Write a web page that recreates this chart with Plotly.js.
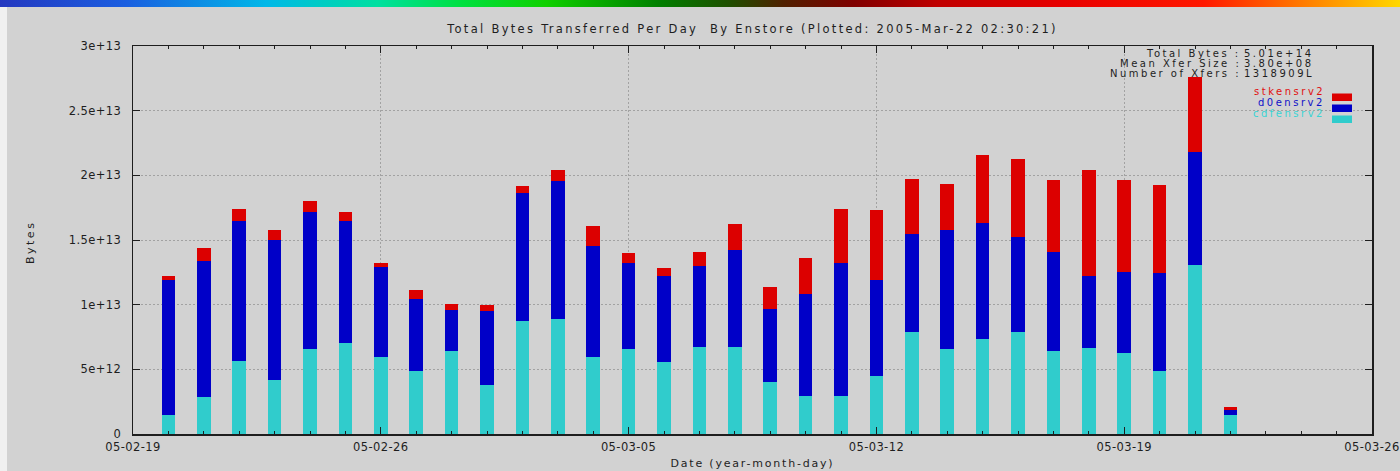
<!DOCTYPE html>
<html>
<head>
<meta charset="utf-8">
<script src="https://cdn.plot.ly/plotly-3.0.1.min.js"></script>
<style>
  html, body { margin: 0; padding: 0; background: #d2d2d2; }
  #wrap { position: relative; width: 1400px; height: 471px; overflow: hidden; }
  #chart { position: absolute; left: 0; top: 0; width: 1400px; height: 471px; }
  /* colour banner across the top of the page */
  #band {
    position: absolute; left: 0; top: 0; width: 1400px; height: 7px; z-index: 2;
    background: linear-gradient(to right,
      #2438c0 0%, #1a5ee0 9%, #00b8e8 19%, #00e0a0 27%, #00e040 33%,
      #10d000 39%, #008000 47%, #1e5000 52%, #502000 56%, #800000 61%,
      #c00000 67%, #e80000 76%, #ff1800 86%, #ff7a00 93%, #ffd800 100%);
  }
  #edge { position: absolute; left: 0; top: 7px; width: 7px; height: 464px; background: #f0f0f0; z-index: 2; }
  /* wide-tracked lettering, like the plotting terminal's font */
  .gtitle { letter-spacing: 2.3px; }
  .annotation-text { letter-spacing: 2.5px; }
  .xtitle { letter-spacing: 1.8px; }
  .xtick text, .ytick text { letter-spacing: 0.4px; }
</style>
</head>
<body>
<div id="wrap">
  <div id="chart"></div>
  <div id="band"></div>
  <div id="edge"></div>
</div>
<script>
// Daily transfer totals per Enstore system (bytes)
const dates = [
  "2005-02-20", "2005-02-21", "2005-02-22", "2005-02-23", "2005-02-24", "2005-02-25",
  "2005-02-26", "2005-02-27", "2005-02-28", "2005-03-01", "2005-03-02", "2005-03-03",
  "2005-03-04", "2005-03-05", "2005-03-06", "2005-03-07", "2005-03-08", "2005-03-09",
  "2005-03-10", "2005-03-11", "2005-03-12", "2005-03-13", "2005-03-14", "2005-03-15",
  "2005-03-16", "2005-03-17", "2005-03-18", "2005-03-19", "2005-03-20", "2005-03-21",
  "2005-03-22"
];

const cdfensrv2 = [
  1.50e12, 2.85e12, 5.65e12, 4.15e12, 6.55e12, 7.05e12,
  5.95e12, 4.90e12, 6.40e12, 3.80e12, 8.70e12, 8.90e12,
  5.95e12, 6.55e12, 5.55e12, 6.70e12, 6.70e12, 4.05e12,
  2.90e12, 2.95e12, 4.50e12, 7.85e12, 6.55e12, 7.35e12,
  7.85e12, 6.40e12, 6.65e12, 6.25e12, 4.85e12, 13.10e12,
  1.45e12
];

const d0ensrv2 = [
  10.40e12, 10.50e12, 10.85e12, 10.85e12, 10.65e12, 9.40e12,
  7.00e12, 5.55e12, 3.15e12, 5.70e12, 9.90e12, 10.70e12,
  8.60e12, 6.65e12, 6.70e12, 6.30e12, 7.55e12, 5.60e12,
  7.95e12, 10.25e12, 7.40e12, 7.60e12, 9.25e12, 9.00e12,
  7.40e12, 7.65e12, 5.55e12, 6.25e12, 7.60e12, 8.70e12,
  0.40e12
];

const stkensrv2 = [
  0.35e12, 1.00e12, 0.90e12, 0.80e12, 0.80e12, 0.75e12,
  0.25e12, 0.70e12, 0.50e12, 0.50e12, 0.60e12, 0.80e12,
  1.55e12, 0.80e12, 0.60e12, 1.05e12, 1.95e12, 1.75e12,
  2.75e12, 4.20e12, 5.40e12, 4.30e12, 3.50e12, 5.20e12,
  6.00e12, 5.60e12, 8.20e12, 7.15e12, 6.80e12, 5.80e12,
  0.20e12
];

const yTickVals = [0, 5e12, 1e13, 1.5e13, 2e13, 2.5e13, 3e13];
const yTickText = ["0", "5e+12", "1e+13", "1.5e+13", "2e+13", "2.5e+13", "3e+13"];

const statLabels = ["Total Bytes :", "Mean Xfer Size :", "Number of Xfers :"];
const statValues = ["5.01e+14", "3.80e+08", "1318909L"];

const chartTitle = "Total Bytes Transferred Per Day  By Enstore (Plotted: 2005-Mar-22 02:30:21)";

// Series drawn bottom-up; key listed top-down
const series = [
  { name: "cdfensrv2", y: cdfensrv2, color: "#30cccc", text: "#38d4d4" },
  { name: "d0ensrv2",  y: d0ensrv2,  color: "#0000c8", text: "#1010c8" },
  { name: "stkensrv2", y: stkensrv2, color: "#dc0000", text: "#e01010" }
];

// Plot frame in page pixels
const L = 133, R = 1372, T = 46, B = 434, W = 1400, H = 471;
const px = x => (x - L) / (R - L);
const py = y => (B - y) / (B - T);

const DAY = 86400000;
const FONT = "DejaVu Sans";
const INK = "#1e1e1e";

const traces = series.map(s => ({
  type: "bar",
  name: s.name,
  x: dates,
  y: s.y,
  width: 0.38 * DAY,
  marker: { color: s.color, line: { width: 0 } },
  showlegend: false,
  hoverinfo: "x+y+name"
}));

const annotations = [];
// summary block, labels right-aligned against their values
statLabels.forEach((lab, i) => {
  const yy = 53 + i * 10.5;
  annotations.push({ xref: "paper", yref: "paper", x: px(1242), y: py(yy), text: lab,
    showarrow: false, xanchor: "right", yanchor: "middle", borderpad: 0,
    font: { family: FONT, size: 10, color: INK } });
  annotations.push({ xref: "paper", yref: "paper", x: px(1243), y: py(yy), text: statValues[i],
    showarrow: false, xanchor: "left", yanchor: "middle", borderpad: 0,
    font: { family: FONT, size: 10, color: INK } });
});

// key: coloured name followed by a swatch
const shapes = [];
series.slice().reverse().forEach((s, i) => {
  const yy = 91.5 + i * 11;
  annotations.push({ xref: "paper", yref: "paper", x: px(1326), y: py(yy), text: s.name,
    showarrow: false, xanchor: "right", yanchor: "middle", borderpad: 0,
    font: { family: FONT, size: 10, color: s.text } });
  shapes.push({ type: "rect", xref: "paper", yref: "paper",
    x0: px(1332), x1: px(1352), y0: py(yy + 2), y1: py(yy + 9.5),
    fillcolor: s.color, line: { width: 0 } });
});

// y-axis caption
annotations.push({ xref: "paper", yref: "paper", x: px(30), y: py(243), text: "Bytes",
  textangle: -90, showarrow: false, xanchor: "center", yanchor: "middle",
  font: { family: FONT, size: 11, color: INK } });

const layout = {
  width: W, height: H,
  margin: { l: L, r: W - R, t: T, b: H - B, pad: 0 },
  paper_bgcolor: "#d2d2d2",
  plot_bgcolor: "#d2d2d2",
  barmode: "stack",
  bargap: 0,
  title: {
    text: chartTitle,
    x: 0.5, xref: "paper", xanchor: "center",
    y: 1 - 29 / H, yref: "container", yanchor: "middle",
    font: { family: FONT, size: 11.5, color: INK }
  },
  xaxis: {
    type: "date",
    range: ["2005-02-19", "2005-03-26"],
    tick0: "2005-02-19",
    dtick: 7 * DAY,
    tickformat: "%y-%m-%d",
    ticks: "inside", ticklen: 7, tickwidth: 1, tickcolor: INK,
    showline: true, linecolor: INK, linewidth: 1.5, mirror: "allticks",
    showgrid: true, gridcolor: "#a2a2a2", griddash: "2px,2px", gridwidth: 1,
    zeroline: false,
    minor: { ticks: "inside", dtick: DAY, tick0: "2005-02-19", ticklen: 3, tickcolor: INK, showgrid: false },
    tickfont: { family: FONT, size: 11.5, color: INK },
    ticklabelstandoff: 2,
    title: { text: "Date (year-month-day)", standoff: 6, font: { family: FONT, size: 11, color: INK } },
    automargin: false,
    fixedrange: true
  },
  yaxis: {
    range: [0, 3e13],
    tickvals: yTickVals,
    ticktext: yTickText,
    ticks: "inside", ticklen: 7, tickwidth: 1, tickcolor: INK,
    showline: true, linecolor: INK, linewidth: 1.5, mirror: "allticks",
    showgrid: true, gridcolor: "#a2a2a2", griddash: "2px,2px", gridwidth: 1,
    zeroline: false,
    tickfont: { family: FONT, size: 11.5, color: INK },
    ticklabelstandoff: 8,
    automargin: false,
    fixedrange: true
  },
  annotations: annotations,
  shapes: shapes
};

Plotly.newPlot("chart", traces, layout, { displayModeBar: false, staticPlot: true });
</script>
</body>
</html>
